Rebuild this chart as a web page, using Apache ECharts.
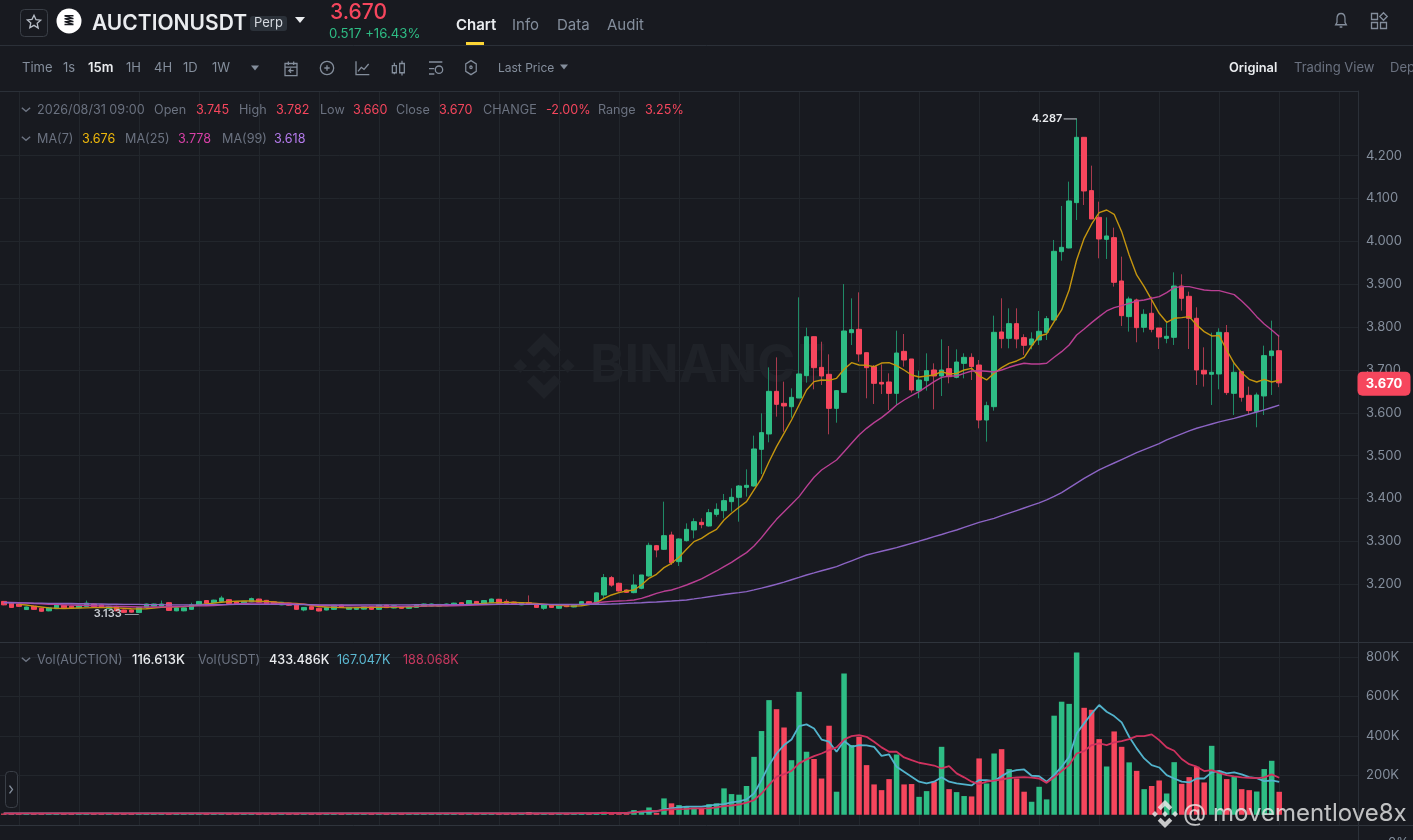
<!DOCTYPE html>
<html><head><meta charset="utf-8"><title>AUCTIONUSDT</title>
<style>html,body{margin:0;padding:0;background:#181a20;overflow:hidden}#c{width:1413px;height:840px}</style>
<script src="https://cdn.jsdelivr.net/npm/echarts@6/dist/echarts.min.js"></script></head>
<body><div id="c"></div><script>
const opens=[3.160,3.156,3.154,3.141,3.149,3.144,3.138,3.143,3.151,3.149,3.145,3.148,3.154,3.152,3.143,3.1485,3.140,3.140,3.134,3.146,3.149,3.149,3.157,3.138,3.138,3.1415,3.151,3.162,3.157,3.160,3.164,3.159,3.154,3.159,3.1655,3.1625,3.159,3.152,3.156,3.152,3.140,3.1477,3.144,3.140,3.1415,3.1516,3.1415,3.1415,3.142,3.1477,3.1415,3.151,3.1446,3.1477,3.1438,3.146,3.1485,3.1492,3.149,3.150,3.151,3.157,3.153,3.160,3.154,3.157,3.165,3.160,3.1586,3.152,3.157,3.152,3.144,3.152,3.144,3.152,3.147,3.152,3.1594,
3.153,3.175,3.2155,3.2023,3.1867,3.1805,3.1906,3.2194,3.2901,3.2816,3.315,3.2528,3.3018,3.3267,3.3446,3.336,3.3632,3.3718,3.3928,3.4029,3.4262,3.4293,3.5149,3.5507,3.6502,3.6222,3.6144,3.6346,3.6868,3.7777,3.7062,3.6899,3.6105,3.6479,3.7871,3.7949,3.7404,3.7078,3.6712,3.672,3.6455,3.7435,3.7257,3.6518,3.6751,3.7,3.686,3.7031,3.6829,3.7155,3.7295,3.7116,3.5833,3.6144,3.7887,3.7739,3.8081,3.7755,3.7584,3.77,3.7879,3.8167,3.9761,3.9847,4.0905,4.2429,4.1185,4.0562,4.0049,4.0088,3.9077,3.8245,3.8634,3.7996,3.8323,3.798,3.7739,3.7763,3.896,3.8719,3.8206,3.6993,3.69,3.6907,3.7871,3.6456,3.6961,3.6409,3.6028,3.6394,3.7335,3.745];
const closes=[3.152,3.146,3.1485,3.147,3.1415,3.137,3.145,3.152,3.145,3.145,3.151,3.156,3.148,3.147,3.1485,3.138,3.1345,3.135,3.146,3.154,3.154,3.154,3.139,3.145,3.145,3.152,3.160,3.1555,3.163,3.168,3.155,3.154,3.160,3.1665,3.158,3.154,3.154,3.158,3.151,3.1415,3.146,3.1415,3.1376,3.146,3.151,3.146,3.146,3.146,3.1477,3.1415,3.151,3.1455,3.150,3.1438,3.1485,3.1516,3.154,3.154,3.153,3.154,3.156,3.152,3.162,3.154,3.162,3.1656,3.1555,3.155,3.1547,3.157,3.154,3.146,3.152,3.146,3.1516,3.1477,3.1516,3.1594,3.154,
3.18,3.2155,3.198,3.1844,3.1812,3.1983,3.2217,3.2909,3.28,3.3134,3.2505,3.3057,3.3282,3.3461,3.3391,3.3671,3.3749,3.3951,3.4029,3.4293,3.4309,3.5157,3.5538,3.6502,3.6199,3.616,3.6362,3.6907,3.7777,3.7054,3.686,3.6105,3.6518,3.791,3.7941,3.7373,3.7054,3.6689,3.6673,3.6455,3.7396,3.7233,3.6533,3.6766,3.6984,3.686,3.7,3.6844,3.7186,3.7295,3.7078,3.5833,3.6168,3.7879,3.7731,3.8081,3.7724,3.7576,3.7724,3.7903,3.8198,3.9769,3.9862,4.0944,4.2429,4.1177,4.0524,4.0057,4.0127,3.9046,3.8268,3.8657,3.7988,3.8299,3.7949,3.777,3.7786,3.896,3.8673,3.8206,3.7,3.6907,3.6946,3.7879,3.6472,3.6946,3.6363,3.6052,3.6417,3.7335,3.7444,3.67];
const highs=[3.161,3.157,3.155,3.148,3.150,3.145,3.146,3.153,3.152,3.150,3.152,3.162,3.155,3.153,3.150,3.150,3.141,3.141,3.147,3.155,3.155,3.162,3.158,3.146,3.146,3.157,3.161,3.163,3.164,3.173,3.165,3.160,3.161,3.169,3.1665,3.1635,3.160,3.159,3.157,3.153,3.147,3.1487,3.145,3.147,3.152,3.1526,3.147,3.147,3.1487,3.1487,3.152,3.152,3.151,3.1487,3.1495,3.1526,3.155,3.155,3.154,3.155,3.157,3.158,3.163,3.161,3.163,3.1666,3.166,3.165,3.1596,3.158,3.174,3.153,3.153,3.153,3.1526,3.153,3.1526,3.1604,3.1604,
3.181,3.224,3.2194,3.204,3.188,3.2232,3.2217,3.297,3.2917,3.3928,3.3228,3.3072,3.3422,3.3539,3.3539,3.3757,3.3889,3.4107,3.4239,3.4317,3.4682,3.5468,3.5989,3.7062,3.7295,3.6728,3.6572,3.8695,3.7988,3.7777,3.766,3.7365,3.6533,3.9006,3.8672,3.8812,3.7404,3.7116,3.7132,3.6922,3.7918,3.784,3.7257,3.6984,3.7389,3.7155,3.7715,3.756,3.7482,3.7389,3.7389,3.7233,3.626,3.8268,3.8673,3.8439,3.8439,3.7833,3.7879,3.8377,3.826,4.0034,4.0827,4.1395,4.287,4.2429,4.1768,4.0928,4.0562,4.0321,3.9645,3.8711,3.8665,3.8416,3.8711,3.798,3.8105,3.9279,3.9233,3.8828,3.8463,3.7529,3.7871,3.7973,3.805,3.7156,3.6961,3.6612,3.6472,3.7568,3.8152,3.782];
const lows=[3.151,3.145,3.1475,3.140,3.1405,3.136,3.137,3.142,3.144,3.144,3.144,3.147,3.147,3.146,3.142,3.137,3.1335,3.134,3.133,3.145,3.148,3.148,3.138,3.137,3.137,3.1405,3.150,3.1545,3.156,3.159,3.154,3.153,3.153,3.158,3.157,3.153,3.153,3.151,3.150,3.1405,3.137,3.1405,3.1366,3.139,3.1405,3.145,3.1405,3.1405,3.141,3.1405,3.1405,3.1445,3.1436,3.1428,3.1428,3.145,3.1475,3.1482,3.148,3.149,3.150,3.151,3.152,3.153,3.153,3.156,3.1545,3.154,3.1537,3.151,3.153,3.145,3.140,3.145,3.143,3.1467,3.146,3.151,3.153,
3.152,3.167,3.194,3.1828,3.18,3.179,3.1883,3.2178,3.2629,3.28,3.245,3.2427,3.2995,3.3072,3.3306,3.3345,3.3578,3.3539,3.3695,3.3461,3.4045,3.4278,3.4573,3.5312,3.5911,3.556,3.5888,3.6346,3.6704,3.6549,3.665,3.5499,3.577,3.6479,3.7583,3.7194,3.6339,3.6207,3.644,3.6066,3.6183,3.7077,3.6471,3.6339,3.6518,3.6082,3.6393,3.6689,3.6805,3.6805,3.6766,3.5639,3.5328,3.6051,3.7506,3.7506,3.7506,3.735,3.7483,3.7584,3.77,3.8151,3.9551,3.9839,4.05,4.085,4.0524,3.9606,3.959,3.8945,3.8027,3.7895,3.7646,3.7879,3.7879,3.749,3.7623,3.7584,3.8385,3.749,3.665,3.6612,3.6184,3.6549,3.6417,3.595,3.6261,3.595,3.5663,3.595,3.6417,3.66];
const ma7=[null,null,3.153,3.1515,3.149,3.147,3.145,3.144,3.1435,3.144,3.1445,3.145,3.1455,3.146,3.1455,3.145,3.144,3.143,3.1425,3.143,3.1445,3.146,3.147,3.1475,3.148,3.149,3.152,3.154,3.156,3.158,3.1595,3.1605,3.161,3.161,3.1605,3.16,3.1585,3.157,3.156,3.155,3.1535,3.151,3.148,3.147,3.146,3.1455,3.145,3.1455,3.1455,3.146,3.1465,3.147,3.147,3.147,3.1475,3.148,3.149,3.1495,3.15,3.1505,3.151,3.152,3.153,3.154,3.1555,3.1565,3.157,3.1575,3.1575,3.157,3.1565,3.155,3.1535,3.152,3.151,3.1495,3.149,3.15,3.1525,
3.157,3.167,3.175,3.1805,3.1844,3.1867,3.1983,3.214,3.2232,3.2388,3.2489,3.2629,3.2816,3.2995,3.3072,3.3189,3.3282,3.35,3.3656,3.3796,3.3928,3.42,3.4472,3.486,3.5211,3.5522,3.5833,3.6183,3.6533,3.6728,3.6767,3.6759,3.6806,3.7016,3.7171,3.7117,3.7109,3.7078,3.7163,3.7171,3.7101,3.7,3.6883,3.6837,3.686,3.6883,3.6961,3.6907,3.6922,3.7,3.7039,3.686,3.6767,3.6923,3.7055,3.7156,3.721,3.7296,3.756,3.7794,3.784,3.8128,3.84,3.8867,3.9567,4.0072,4.0407,4.0671,4.0733,4.0632,4.0228,3.9684,3.9217,3.8945,3.8634,3.8323,3.8113,3.8206,3.8222,3.8245,3.805,3.7895,3.7794,3.7801,3.7467,3.7156,3.6938,3.6783,3.672,3.6783,3.672,3.676];
const ma25=[3.158,3.1575,3.157,3.156,3.155,3.1545,3.1535,3.153,3.152,3.1515,3.151,3.1505,3.15,3.1495,3.149,3.1485,3.148,3.1475,3.147,3.147,3.147,3.147,3.1475,3.148,3.1485,3.149,3.1495,3.15,3.1505,3.1515,3.153,3.154,3.155,3.156,3.156,3.156,3.156,3.1555,3.155,3.154,3.1535,3.152,3.151,3.1505,3.15,3.15,3.15,3.1495,3.149,3.149,3.149,3.1485,3.1485,3.1485,3.149,3.149,3.149,3.1495,3.1495,3.15,3.15,3.1505,3.151,3.1515,3.152,3.1525,3.153,3.1535,3.1535,3.1535,3.1535,3.1535,3.153,3.1525,3.152,3.152,3.1525,3.153,3.1545,
3.157,3.1587,3.1602,3.161,3.1618,3.1634,3.1672,3.1727,3.1789,3.1836,3.1867,3.1921,3.1983,3.2053,3.2124,3.2217,3.231,3.2411,3.2512,3.2629,3.2738,3.2893,3.3088,3.3306,3.3515,3.3694,3.3866,3.4045,3.4278,3.4496,3.4667,3.4783,3.49,3.5094,3.5289,3.5483,3.5639,3.5771,3.5888,3.6028,3.6183,3.63,3.6401,3.6494,3.6611,3.6728,3.6829,3.686,3.686,3.6922,3.6977,3.6984,3.6969,3.6953,3.7,3.7063,3.7117,3.7156,3.714,3.714,3.7156,3.7296,3.7428,3.7584,3.7817,3.7957,3.8105,3.8245,3.8377,3.8455,3.8501,3.8556,3.861,3.8634,3.8673,3.8711,3.8805,3.8921,3.8945,3.8945,3.8906,3.8867,3.8851,3.8851,3.8805,3.8758,3.861,3.8439,3.8245,3.8074,3.7934,3.778];
const ma99=[3.157,3.157,3.1565,3.1565,3.156,3.156,3.1555,3.1555,3.155,3.155,3.1545,3.1545,3.154,3.154,3.1535,3.1535,3.153,3.153,3.153,3.1525,3.1525,3.1525,3.152,3.152,3.152,3.152,3.152,3.1525,3.1525,3.1525,3.1525,3.153,3.153,3.153,3.153,3.153,3.153,3.153,3.1525,3.1525,3.1525,3.1525,3.152,3.152,3.152,3.152,3.152,3.152,3.152,3.152,3.152,3.152,3.152,3.152,3.152,3.1525,3.1525,3.1525,3.1525,3.1525,3.1525,3.1525,3.1525,3.153,3.153,3.153,3.153,3.153,3.153,3.153,3.153,3.153,3.153,3.153,3.153,3.153,3.153,3.153,3.153,
3.1533,3.1535,3.154,3.1546,3.1555,3.1562,3.157,3.158,3.1588,3.1598,3.1608,3.162,3.1634,3.1658,3.1683,3.171,3.1735,3.176,3.1785,3.1805,3.1828,3.1868,3.191,3.1955,3.2,3.205,3.2105,3.216,3.2217,3.2265,3.2315,3.2363,3.2411,3.248,3.2548,3.2615,3.2683,3.2727,3.277,3.2812,3.2855,3.2905,3.2955,3.3005,3.3057,3.311,3.3162,3.3215,3.3267,3.3327,3.3387,3.3446,3.3492,3.3539,3.36,3.366,3.372,3.378,3.384,3.39,3.397,3.405,3.414,3.425,3.436,3.447,3.457,3.467,3.475,3.483,3.491,3.499,3.507,3.514,3.521,3.528,3.537,3.544,3.551,3.558,3.564,3.569,3.574,3.579,3.583,3.587,3.592,3.597,3.602,3.607,3.6125,3.618];
const volume=[6,8,7,5,6,7,6,5,5,6,5,6,7,6,8,9,6,6,7,7,5,6,8,6,5,7,6,5,6,7,6,5,5,7,6,5,5,4,5,8,7,6,6,6,7,5,5,5,6,7,5,4,5,4,4,5,4,4,5,5,4,5,7,6,6,7,8,5,4,5,14,8,7,6,5,6,6,7,6,8,15,7,6,7,
24,12,37,10,83,58,49,41,36,32,54,58,134,105,102,146,294,425,582,536,443,277,624,320,283,184,452,117,717,354,396,252,154,125,181,306,154,156,91,120,168,345,130,115,95,93,286,159,311,333,232,184,117,66,142,78,503,574,563,824,543,533,384,245,423,345,266,223,130,146,174,108,267,157,191,244,164,350,223,181,193,130,125,118,232,274,116.6];
const volMaFast=[7,7,7,7,7,7,7,7,7,7,7,7,7,7,7,7,7,7,7,7,7,7,7,7,7,7,7,7,7,7,7,7,7,7,7,7,7,7,7,7,7,7,7,7,7,7,7,7,7,7,7,7,7,7,7,7,7,7,7,7,7,7,7,7,7,7,7,7,7,7,7,7,7,7,7,7,7,7,7,7,9,10,10,10,
13.5,15,15,17,27,32,37,41,41,41,46,51,54,63,68,78,108,176,252,311,354,382,450,459,438,382,371,320,374,345,354,352,345,299,306,244,218,193,168,159,168,190,168,159,154,149,176,176,171,196,218,227,230,198,196,168,201,244,294,413,464,514,557,523,501,469,396,337,286,252,240,201,184,168,164,184,184,215,223,210,215,205,191,186,171,174,167];
const volMaSlow=[7,7,7,7,7,7,7,7,7,7,7,7,7,7,7,7,7,7,7,7,7,7,7,7,7,7,7,7,7,7,7,7,7,7,7,7,7,7,7,7,7,7,7,7,7,7,7,7,7,7,7,7,7,7,7,7,7,7,7,7,7,7,7,7,7,7,7,7,7,7,7,7,7,7,7,7,7,8,8,8,9,9,10,10,
12,17,20,20,24,27,29,30,32,32,32,37,44,47,52,61,74,108,151,193,206,223,261,281,298,311,328,342,382,399,404,396,371,342,320,320,291,277,264,257,250,235,247,210,190,168,156,168,173,179,186,190,191,188,184,162,190,222,252,311,323,354,362,354,367,374,384,399,399,408,379,342,325,283,257,244,222,227,213,201,195,190,188,186,190,205,188];
const priceTicks=[3.2,3.3,3.4,3.5,3.6,3.7,3.8,3.9,4.0,4.1,4.2];
const volumeTicks=[200,400,600,800];
const timeSlots=Array.from({length:181},(_,i)=>String(i));

const UP='#2ebd85',DOWN='#f6465d',UPW='#1f8a66',DOWNW='#a93a4d',BG='#181a20',GRID='#22262c',SEP='#2b3038',MUTED='#848e9c',SOFT='#6b7280';
const FONT='Inter, "Noto Sans", Roboto, sans-serif';
const chart=echarts.init(document.getElementById('c'),null,{width:1413,height:840});
const split={show:true,alignWithLabel:true,interval:(i)=>i%8===2,lineStyle:{color:GRID,width:1}};
const ln=(name,data,color,width,x,z)=>({name,type:'line',data,xAxisIndex:x,yAxisIndex:x,showSymbol:false,symbol:'none',silent:true,connectNulls:false,lineStyle:{color,width},itemStyle:{color},z:z||5,animation:false});
chart.setOption({
 backgroundColor:BG,animation:false,
 grid:[{left:0,width:1358,top:91,height:551,containLabel:false},{left:0,width:1358,top:643,height:182}],
 xAxis:[0,1].map(g=>({type:'category',gridIndex:g,data:timeSlots,boundaryGap:true,axisLine:{show:false},axisTick:{show:false,alignWithLabel:true},axisLabel:{show:false},splitLine:split})),
 yAxis:[
  {type:'value',gridIndex:0,position:'right',min:3.0653,max:4.351,scale:true,axisLine:{show:true,lineStyle:{color:SEP}},axisTick:{show:false,customValues:priceTicks},
   axisLabel:{customValues:priceTicks,color:MUTED,fontFamily:FONT,fontSize:13,margin:8,padding:[2,0,0,0],formatter:v=>v.toFixed(3)},splitLine:{show:true,lineStyle:{color:GRID}}},
  {type:'value',gridIndex:1,position:'right',min:-52,max:872,axisLine:{show:true,lineStyle:{color:SEP}},axisTick:{show:false,customValues:volumeTicks},
   axisLabel:{customValues:volumeTicks,color:MUTED,fontFamily:FONT,fontSize:13,margin:8,formatter:v=>v+'K'},splitLine:{show:true,lineStyle:{color:GRID}}}
 ],
 series:[
  {name:'Wicks',type:'candlestick',xAxisIndex:0,yAxisIndex:0,barWidth:1,z:3,animation:false,silent:true,
   data:opens.map((o,i)=>[o,closes[i],lows[i],highs[i]]),
   itemStyle:{color:UPW,color0:DOWNW,borderColor:UPW,borderColor0:DOWNW,borderWidth:1}},
  {name:'Price',type:'candlestick',xAxisIndex:0,yAxisIndex:0,barWidth:5,z:4,animation:false,silent:true,
   data:opens.map((o,i)=>[o,closes[i],Math.min(o,closes[i]),Math.max(o,closes[i])]),
   itemStyle:{color:UP,color0:DOWN,borderColor:UP,borderColor0:DOWN,borderWidth:1}},
  ln('MA(7)',ma7,'#c4950f',1.4,0,6),ln('MA(25)',ma25,'#b93f93',1.4,0,6),ln('MA(99)',ma99,'#8c64c4',1.4,0,6),
  {name:'Vol',type:'bar',xAxisIndex:1,yAxisIndex:1,barWidth:5.5,z:3,animation:false,silent:true,
   data:volume.map((v,i)=>({value:v,itemStyle:{color:closes[i]>=opens[i]?UP:DOWN}}))},
  ln('Vol MA fast',volMaFast,'#52b3cc',1.8,1,6),ln('Vol MA slow',volMaSlow,'#d0325f',1.8,1,7)
 ]
});
const T=(x,y,text,fill,size,weight,extra)=>Object.assign({type:'text',z:50,x,y,style:{text,fill,fontSize:size||13,fontWeight:weight||400,fontFamily:FONT,textVerticalAlign:'middle',textAlign:'left'}},extra||{});
const L=(x1,y1,x2,y2,c,w)=>({type:'line',z:40,shape:{x1,y1,x2,y2},style:{stroke:c,lineWidth:w||1}});
const R=(x,y,w,h,fill,r,stroke)=>({type:'rect',z:40,shape:{x,y,width:w,height:h,r:r||0},style:{fill:fill||'none',stroke:stroke||null,lineWidth:1}});
const Tri=(cx,cy,s,c)=>({type:'polygon',z:45,shape:{points:[[cx-s,cy-s*0.6],[cx+s,cy-s*0.6],[cx,cy+s*0.6]]},style:{fill:c}});
let iconN=0;
const Icon=(d,x,y,w,h,c,vw,vh)=>{const name='ic'+(iconN++);echarts.graphic.registerShape(name,echarts.graphic.extendPath(d,{}));
 return {type:name,z:45,x,y,scaleX:w/(vw||24),scaleY:h/(vh||24),style:{fill:'none',stroke:c||'#848e9c',lineWidth:1.3,strokeNoScale:true}};};
const logo=(cx,cy,s,c,o)=>{const p=a=>({type:'polygon',z:o>0.5&&c!=='#1f2228'?60:1,shape:{points:a.map(q=>[cx+q[0]*s,cy+q[1]*s])},style:{fill:c,opacity:o}});
 return [p([[0,-1],[.52,-.48],[.31,-.27],[0,-.58],[-.31,-.27],[-.52,-.48]]),p([[0,1],[.52,.48],[.31,.27],[0,.58],[-.31,.27],[-.52,.48]]),p([[0,-.21],[.21,0],[0,.21],[-.21,0]]),p([[-.72,-.21],[-.51,0],[-.72,.21],[-.93,0]]),p([[.72,-.21],[.93,0],[.72,.21],[.51,0]])];};
const yP=v=>chart.convertToPixel({yAxisIndex:0},v);
const xP=i=>chart.convertToPixel({xAxisIndex:0},i);
const hiY=yP(4.287),loY=yP(3.133)+1,hiX=xP(143),loX=xP(18),lastY=yP(closes[170])+0.8;
const chev=(y)=>Icon('M1 1l5 5 5-5',21,y,10,5,SOFT,12,7);
const LS=12.6;
const g=[
 ...logo(544,366,33,'#1f2228',1),
 {type:'text',z:1,x:590,y:366,style:{text:'BINANCE',fill:'#1f2228',fontSize:52,fontWeight:700,fontFamily:FONT,textVerticalAlign:'middle'}},
 L(0,45.5,1413,45.5,SEP),L(0,91.5,1358,91.5,SEP),L(0,642.5,1413,642.5,'#2f343c'),L(0,825.5,1413,825.5,'#2f343c'),L(1358.5,91,1358.5,840,SEP),
 R(20.5,9.5,27,27,null,4,'#3a3f47'),
 Icon('M12 2l3 6.5 7 .8-5.2 4.7 1.5 7L12 17l-6.3 3.5 1.5-7L2 8.8l7-.8z',26,14,16,16,'#b7bdc6'),
 {type:'circle',z:45,shape:{cx:69,cy:21,r:12.5},style:{fill:'#ffffff'}},
 Icon('M3 3h18M3 8h18M3 13h18M3 18h18M3 3l18 5M3 8l18 5M3 13l18 5',63,14,12,14,'#181a20'),
 T(92,23.5,'AUCTIONUSDT','#eaecef',21,600),
 R(250,16,37,15,'#2b3139',3),T(254,23.5,'Perp','#d5d9df',13),Tri(300,20,5,'#eaecef'),
 T(330,13,'3.670',DOWN,21,500),T(329,34,'0.517 +16.43%','#2ebd85',13.2),
 T(456,25,'Chart','#eaecef',15,600),R(466,42,18,3,'#fcd535'),T(512,25,'Info',MUTED,15),T(557,25,'Data',MUTED,15),T(607,25,'Audit',MUTED,15),
 Icon('M12 2c4 0 6 3 6 7v5l2 3H4l2-3V9c0-4 2-7 6-7zM10 20h4',1333,12,16,18,MUTED),
 Icon('M2 2h8v8H2zM18 1l5 5-5 5-5-5zM2 14h8v8H2zM14 14h8v8h-8z',1370,12,18,18,MUTED),
 T(22,68.5,'Time',MUTED,13),T(63,68.5,'1s',MUTED,13),T(88,68.5,'15m','#eaecef',13,600),T(126,68.5,'1H',MUTED,13),T(154,68.5,'4H',MUTED,13),T(183,68.5,'1D',MUTED,13),T(212,68.5,'1W',MUTED,13),Tri(255,68,4,MUTED),
 Icon('M3 5h18v17H3zM3 10h18M8 2v5M16 2v5M16 15H9l3-3M9 15l3 3',283,60,16,17,MUTED),
 Icon('M12 2a10 10 0 1 0 0 20a10 10 0 1 0 0-20zM12 8v8M8 12h8',319,60,16,16,MUTED),
 Icon('M3 2v20h20M6 17l5-6 4 3 7-8',354,60,16,16,MUTED),
 Icon('M2 8h6v10H2zM5 4v4M5 18v2M13 5h7v13h-7zM16.5 1v4M16.5 18v4',391,60,16,17,MUTED),
 Icon('M3 3h20M3 13h8M3 21h8M18 9a5.5 5.5 0 1 0 0 11a5.5 5.5 0 1 0 0-11z',427,60,16,16,MUTED),
 Icon('M12 1l9 5v11l-9 5-9-5V6zM12 9a2 2 0 1 0 0 4a2 2 0 1 0 0-4z',464,60,14,16,MUTED),
 T(498,68.5,'Last Price',MUTED,12),Tri(564,67,4,MUTED),
 T(1229,68.5,'Original','#eaecef',12.8,600),T(1294,68.5,'Trading View',SOFT,13),T(1390,68.5,'Dep',SOFT,13),
 T(37,110,'2026/08/31 09:00',SOFT,LS),T(154,110,'Open',SOFT,LS),T(196,110,'3.745',DOWN,LS),T(239,110,'High',SOFT,LS),T(276,110,'3.782',DOWN,LS),T(320,110,'Low',SOFT,LS),T(353,110,'3.660',DOWN,LS),T(396,110,'Close',SOFT,LS),T(439,110,'3.670',DOWN,LS),T(483,110,'CHANGE',SOFT,LS),T(546,110,'-2.00%',DOWN,LS),T(598,110,'Range',SOFT,LS),T(645,110,'3.25%',DOWN,LS),
 chev(107),chev(136),chev(657),
 T(37,139,'MA(7)',SOFT,LS),T(82,139,'3.676','#f0b90b',LS),T(125,139,'MA(25)',SOFT,LS),T(178,139,'3.778','#d940a8',LS),T(222,139,'MA(99)',SOFT,LS),T(274,139,'3.618','#b57bed',LS),
 T(37,660,'Vol(AUCTION)',SOFT,LS),T(132,660,'116.613K','#eaecef',13,500),T(198,660,'Vol(USDT)',SOFT,LS),T(269,660,'433.486K','#eaecef',LS,500),T(337,660,'167.047K','#5cb8d1',LS),T(403,660,'188.068K','#c9385f',LS),
 L(hiX-13,hiY+.5,hiX,hiY+.5,'#c8ccd2',1),T(hiX-45,hiY,'4.287','#eaecef',11,600),
 L(loX,loY+.5,loX-14,loY+.5,'#9aa0a8',1),T(loX-45,loY,'3.133','#c8ccd2',11,600),
 R(1357.5,lastY-12,53,24,DOWN,5),
 {type:'text',z:55,x:1384,y:lastY,style:{text:'3.670',fill:'#fff',fontSize:13,fontWeight:700,fontFamily:FONT,textAlign:'center',textVerticalAlign:'middle'}},
 R(5.5,771.5,12,36,BG,4,'#3a3f47'),Icon('M1 1l6 6-6 6',9,785,4,9,MUTED,8,14),
 ...logo(1165,814,14,'#e8e8e8',0.85),
 {type:'text',z:60,x:1183,y:814,style:{text:'@ movementlove8x',fill:'rgba(235,235,235,.8)',fontSize:24,fontFamily:FONT,textVerticalAlign:'middle'}},
 T(1388,843,'0%',MUTED,13)
];
chart.setOption({graphic:{elements:g}});
</script></body></html>
